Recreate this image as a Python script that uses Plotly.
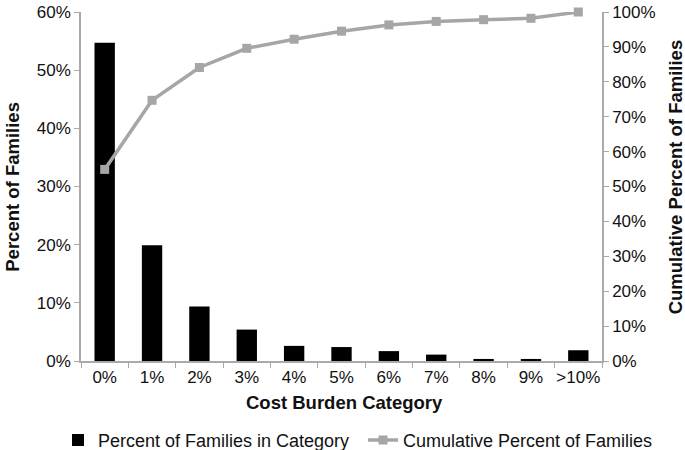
import plotly.graph_objects as go

categories = ["0%", "1%", "2%", "3%", "4%", "5%", "6%", "7%", "8%", "9%", ">10%"]
pct_families = [54.7, 19.9, 9.35, 5.4, 2.6, 2.4, 1.7, 1.1, 0.35, 0.35, 1.85]
cum_pct = [54.9, 74.7, 84.1, 89.6, 92.2, 94.5, 96.3, 97.3, 97.8, 98.2, 100.0]
left_ticks = [0, 10, 20, 30, 40, 50, 60]
right_ticks = [0, 10, 20, 30, 40, 50, 60, 70, 80, 90, 100]

FONT = "Liberation Sans, Arial, sans-serif"
AXIS_GRAY = "#aaaaaa"
LINE_GRAY = "#a6a6a6"

fig = go.Figure()
fig.add_trace(go.Bar(
    x=categories, y=pct_families, name="Percent of Families in Category",
    marker=dict(color="black", line=dict(width=0)), yaxis="y", legend="legend"))
fig.add_trace(go.Scatter(
    x=categories, y=cum_pct, name="Cumulative Percent of Families",
    mode="lines+markers", line=dict(color=LINE_GRAY, width=3.5), cliponaxis=False,
    marker=dict(symbol="square", size=9, color=LINE_GRAY), yaxis="y2", legend="legend2"))

leg_y = -(440 - 360.7) / 349
fig.update_layout(
    width=685, height=450,
    margin=dict(l=81, r=83, t=12, b=89, autoexpand=False),
    paper_bgcolor="white", plot_bgcolor="white",
    font=dict(family=FONT, size=17, color="#111111"),
    bargap=0.57,
    showlegend=True,
    legend=dict(orientation="h", x=(58 - 81) / 521, xanchor="left", y=leg_y, yanchor="middle",
                font=dict(size=18), bgcolor="rgba(0,0,0,0)"),
    legend2=dict(orientation="h", x=(363 - 81) / 521, xanchor="left", y=leg_y, yanchor="middle",
                 font=dict(size=18), bgcolor="rgba(0,0,0,0)"),
    xaxis=dict(range=[-0.5, len(categories) - 0.5],
               showline=True, linecolor=AXIS_GRAY, linewidth=1.5, automargin=False,
               tickangle=0,
               ticks="outside", tickson="boundaries", ticklen=5, tickcolor=AXIS_GRAY,
               showgrid=False, zeroline=False),
    yaxis=dict(range=[0, 60], tickvals=left_ticks, ticktext=[f"{v}%" for v in left_ticks],
               showline=True, linecolor=AXIS_GRAY, linewidth=1.5, automargin=False,
               ticks="outside", ticklen=5, tickcolor=AXIS_GRAY,
               showgrid=False, zeroline=False),
    yaxis2=dict(range=[0, 100], tickvals=right_ticks, ticktext=[f"{v}%" for v in right_ticks],
                overlaying="y", side="right", automargin=False,
                showline=True, linecolor=AXIS_GRAY, linewidth=1.5,
                ticks="outside", ticklen=5, tickcolor=AXIS_GRAY,
                showgrid=False, zeroline=False),
    annotations=[
        dict(text="<b>Percent of Families</b>", xref="paper", yref="paper",
             x=-0.132, y=0.5, textangle=-90, showarrow=False,
             xanchor="center", yanchor="middle", font=dict(size=18.5)),
        dict(text="<b>Cumulative Percent of Families</b>", xref="paper", yref="paper",
             x=1.14, y=0.529, textangle=-90, showarrow=False,
             xanchor="center", yanchor="middle", font=dict(size=18.5)),
        dict(text="<b>Cost Burden Category</b>", xref="paper", yref="paper",
             x=0.506, y=-(402 - 360.7) / 349, showarrow=False,
             xanchor="center", yanchor="middle", font=dict(size=18.5)),
    ],
)

fig.write_html("out.html", config={"displayModeBar": False},
               post_script="document.body.style.margin='0';")
